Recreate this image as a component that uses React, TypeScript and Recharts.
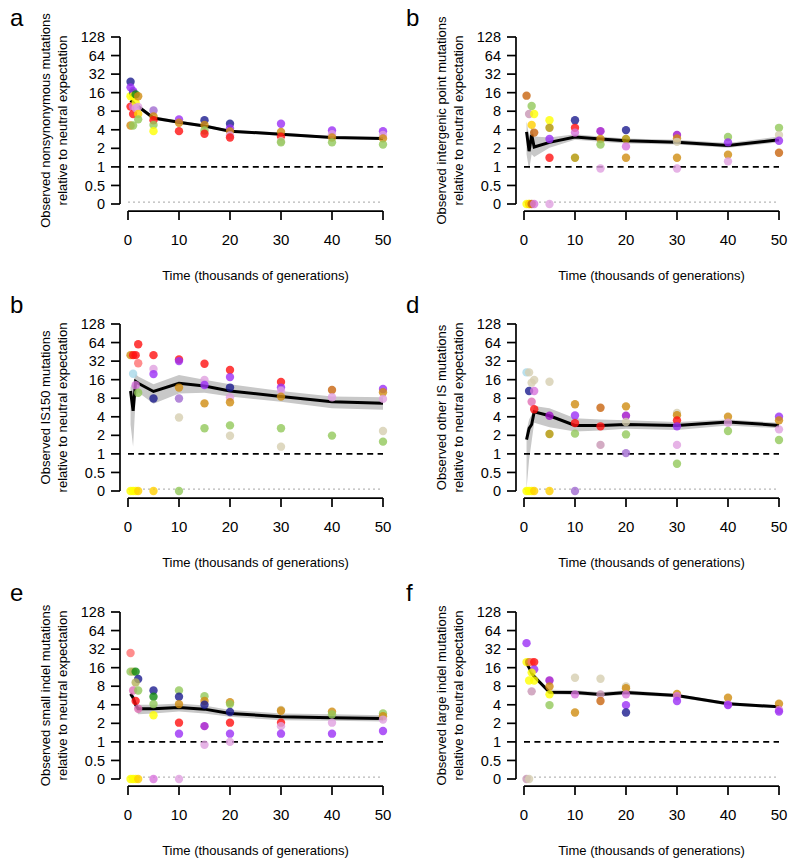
import React from 'react';
import { ComposedChart, XAxis, YAxis, Scatter, Line, Area, ReferenceLine, Label } from 'recharts';

const FONT = '"Liberation Sans", Arial, Helvetica, sans-serif';

const TIMES = [0.5, 1, 1.5, 2, 5, 10, 15, 20, 30, 40, 50];
const X_TICKS = [0, 10, 20, 30, 40, 50];
const Y_TICKS = [-2, -1, 0, 1, 2, 3, 4, 5, 6, 7];
const Y_TICK_LABELS = ['0', '0.5', '1', '2', '4', '8', '16', '32', '64', '128'];
const X_TITLE = 'Time (thousands of generations)';

// population colour key -> colour
const POP_COLORS: Record<string, string> = {
  navy: '#1c1c8f',
  violet: '#9b30f5',
  darkviolet: '#a010c8',
  mediumpurple: '#a06ad0',
  red: '#ff1010',
  salmon: '#ff7070',
  orchid: '#d874dc',
  plum: '#e0a0e0',
  hotpink: '#e070b4',
  rosy: '#c896b4',
  yellow: '#ffff00',
  gold: '#ffd000',
  green: '#108a10',
  yellowgreen: '#92c85a',
  olive: '#b09400',
  khaki: '#b4b25a',
  goldenrod: '#d08c10',
  chocolate: '#c8640e',
  tan: '#d6ceb0',
  lightblue: '#a8d8e8',
};

// [time (k gen), observed/expected ratio, population]
type Obs = [number, number, string];

// a: nonsynonymous
const obsA: Obs[] = [
  [0.5, 24, 'navy'], [0.5, 19.5, 'violet'], [0.5, 14, 'yellow'], [0.5, 9.5, 'red'], [0.5, 4.7, 'goldenrod'],
  [1, 16, 'green'], [1, 17, 'violet'], [1, 14, 'yellow'], [1, 9.5, 'orchid'], [1, 7.2, 'red'], [1, 4.7, 'yellowgreen'],
  [1.5, 15, 'green'], [1.5, 11, 'yellow'], [1.5, 9, 'plum'],
  [2, 14, 'goldenrod'], [2, 9.4, 'plum'], [2, 7.2, 'gold'], [2, 5.9, 'yellowgreen'],
  [5, 8.2, 'mediumpurple'], [5, 6.6, 'goldenrod'], [5, 5.7, 'red'], [5, 4.8, 'yellowgreen'], [5, 3.8, 'yellow'],
  [10, 5.9, 'violet'], [10, 5.2, 'goldenrod'], [10, 3.8, 'red'],
  [15, 5.7, 'navy'], [15, 4.8, 'goldenrod'], [15, 3.9, 'yellowgreen'], [15, 3.45, 'red'],
  [20, 5.0, 'navy'], [20, 4.2, 'violet'], [20, 3.76, 'goldenrod'], [20, 3.25, 'plum'], [20, 3.0, 'red'],
  [30, 5.0, 'violet'], [30, 3.7, 'goldenrod'], [30, 3.1, 'red'], [30, 2.6, 'tan'], [30, 2.5, 'yellowgreen'],
  [40, 3.9, 'violet'], [40, 3.4, 'plum'], [40, 3.0, 'goldenrod'], [40, 2.5, 'yellowgreen'],
  [50, 3.8, 'violet'], [50, 3.3, 'plum'], [50, 2.9, 'goldenrod'], [50, 2.3, 'yellowgreen'],
];
const meanA = [12, 11, 10, 9.5, 6.2, 5.3, 4.6, 3.8, 3.4, 3.0, 2.9];
const loA = [10.5, 9.8, 9.0, 8.7, 5.8, 5.0, 4.35, 3.6, 3.2, 2.85, 2.75];
const hiA = [13.5, 12.3, 11, 10.3, 6.6, 5.6, 4.85, 4.0, 3.6, 3.15, 3.05];

// b: intergenic point
const obsB: Obs[] = [
  [0.5, 0, 'yellow'], [1, 0, 'yellow'], [1, 0, 'gold'], [1.5, 0, 'chocolate'], [2, 0, 'orchid'], [5, 0, 'plum'],
  [0.5, 14.3, 'chocolate'], [1, 7.2, 'rosy'], [1.5, 9.7, 'yellowgreen'], [2, 7.2, 'yellow'], [1.5, 4.8, 'gold'], [2, 3.6, 'chocolate'],
  [5, 5.7, 'yellow'], [5, 4.3, 'olive'], [5, 2.83, 'violet'], [5, 1.41, 'red'],
  [10, 5.7, 'navy'], [10, 4.3, 'red'], [10, 3.6, 'orchid'], [10, 1.41, 'olive'],
  [15, 3.8, 'darkviolet'], [15, 2.83, 'goldenrod'], [15, 2.3, 'yellowgreen'], [15, 0.94, 'plum'],
  [20, 3.95, 'navy'], [20, 2.83, 'olive'], [20, 2.15, 'orchid'], [20, 1.41, 'goldenrod'],
  [30, 3.3, 'darkviolet'], [30, 2.9, 'goldenrod'], [30, 2.55, 'tan'], [30, 1.41, 'goldenrod'], [30, 0.94, 'plum'],
  [40, 3.05, 'yellowgreen'], [40, 2.5, 'violet'], [40, 1.58, 'goldenrod'], [40, 1.23, 'plum'],
  [50, 4.3, 'yellowgreen'], [50, 3.3, 'tan'], [50, 2.65, 'violet'], [50, 1.7, 'chocolate'],
];
const meanB = [3.7, 1.8, 3.3, 2.1, 2.5, 3.05, 2.83, 2.65, 2.5, 2.23, 2.75];
const loB = [1.6, 0.9, 1.6, 1.45, 2.05, 2.75, 2.55, 2.4, 2.3, 2.05, 2.5];
const hiB = [5.5, 3.2, 4.5, 3.1, 3.0, 3.4, 3.1, 2.9, 2.75, 2.45, 3.1];

// c: IS150
const obsC: Obs[] = [
  [0.5, 0, 'yellow'], [1, 0, 'yellow'], [1.5, 0, 'yellow'], [2, 0, 'gold'], [5, 0, 'gold'], [10, 0, 'yellowgreen'],
  [0.5, 40, 'goldenrod'], [1, 40, 'red'], [1.5, 40, 'red'], [2, 60, 'red'], [2, 29.6, 'salmon'],
  [1, 20, 'lightblue'], [1.5, 13, 'orchid'], [2, 9.8, 'yellowgreen'],
  [5, 40, 'red'], [5, 23.8, 'plum'], [5, 19.7, 'violet'], [5, 7.9, 'navy'],
  [10, 34, 'red'], [10, 32, 'violet'], [10, 11.9, 'goldenrod'], [10, 7.9, 'mediumpurple'], [10, 3.9, 'tan'],
  [15, 29, 'red'], [15, 15.8, 'plum'], [15, 13.1, 'violet'], [15, 6.6, 'goldenrod'], [15, 2.6, 'yellowgreen'],
  [20, 23, 'red'], [20, 17.6, 'violet'], [20, 11.9, 'navy'], [20, 8.3, 'plum'], [20, 6.9, 'goldenrod'], [20, 2.9, 'yellowgreen'], [20, 1.97, 'tan'],
  [30, 14.7, 'red'], [30, 11.9, 'violet'], [30, 10.6, 'plum'], [30, 8.5, 'goldenrod'], [30, 2.6, 'yellowgreen'], [30, 1.31, 'tan'],
  [40, 10.9, 'chocolate'], [40, 8.3, 'plum'], [40, 1.98, 'yellowgreen'],
  [50, 11.3, 'violet'], [50, 10, 'goldenrod'], [50, 7.8, 'plum'], [50, 2.35, 'tan'], [50, 1.58, 'yellowgreen'],
];
const meanC = [10.5, 5, 15, 14, 10.3, 14, 12.6, 10.5, 8.5, 7, 6.6];
const loC = [3, 1.3, 8, 10, 6.5, 9.5, 9.8, 8.5, 7, 5.5, 5.2];
const hiC = [12, 14, 20, 18, 13.5, 19, 16, 13.5, 10.5, 8.5, 8.3];

// d: other IS
const obsD: Obs[] = [
  [0.5, 0, 'yellow'], [1, 0, 'yellow'], [1.5, 0, 'yellow'], [2, 0, 'gold'], [5, 0, 'gold'], [10, 0, 'mediumpurple'],
  [0.5, 21, 'lightblue'], [1, 21, 'tan'], [1.5, 14.3, 'tan'], [2, 15.8, 'tan'], [1, 10.5, 'navy'], [2, 10.5, 'orchid'],
  [1.5, 7, 'hotpink'], [2, 5.3, 'red'],
  [5, 14.8, 'tan'], [5, 4.15, 'darkviolet'], [5, 2.1, 'olive'],
  [10, 6.4, 'goldenrod'], [10, 4.2, 'violet'], [10, 3.16, 'red'], [10, 2.13, 'yellowgreen'],
  [15, 5.6, 'chocolate'], [15, 2.8, 'red'], [15, 1.4, 'rosy'],
  [20, 5.9, 'goldenrod'], [20, 4.15, 'darkviolet'], [20, 3.3, 'tan'], [20, 2.07, 'yellowgreen'], [20, 1.03, 'mediumpurple'],
  [30, 4.6, 'tan'], [30, 4.25, 'goldenrod'], [30, 3.5, 'red'], [30, 2.8, 'violet'], [30, 1.4, 'plum'], [30, 0.69, 'yellowgreen'],
  [40, 4.0, 'goldenrod'], [40, 3.2, 'plum'], [40, 2.35, 'yellowgreen'],
  [50, 4.0, 'violet'], [50, 3.5, 'goldenrod'], [50, 2.5, 'plum'], [50, 1.68, 'yellowgreen'],
];
const meanD = [1.7, 2.6, 3.0, 4.8, 4.15, 2.9, 2.9, 3.0, 2.9, 3.3, 2.9];
const loD = [0.27, 0.8, 1.6, 3.2, 2.7, 2.3, 2.4, 2.55, 2.45, 2.9, 2.6];
const hiD = [2.4, 3.6, 4.3, 6.0, 5.5, 3.8, 3.6, 3.5, 3.3, 3.6, 3.2];

// e: small indel
const obsE: Obs[] = [
  [0.5, 0, 'yellow'], [1, 0, 'yellow'], [1.5, 0, 'yellow'], [2, 0, 'gold'], [5, 0, 'orchid'], [10, 0, 'plum'],
  [0.5, 27.6, 'salmon'], [0.5, 13.8, 'yellowgreen'], [1, 13.8, 'khaki'], [1.5, 13.8, 'green'], [2, 10.5, 'navy'],
  [1.5, 9.2, 'khaki'], [1, 6.8, 'hotpink'], [2, 6.8, 'yellowgreen'], [1.5, 4.6, 'red'], [2, 3.45, 'hotpink'],
  [5, 6.8, 'navy'], [5, 5.4, 'green'], [5, 4.1, 'yellowgreen'], [5, 2.7, 'yellow'],
  [10, 6.8, 'yellowgreen'], [10, 5.4, 'navy'], [10, 4.1, 'goldenrod'], [10, 2.05, 'red'], [10, 1.36, 'violet'],
  [15, 5.5, 'yellowgreen'], [15, 4.6, 'goldenrod'], [15, 4.0, 'navy'], [15, 1.8, 'darkviolet'], [15, 0.9, 'plum'],
  [20, 4.4, 'goldenrod'], [20, 4.1, 'yellowgreen'], [20, 3.05, 'navy'], [20, 2.05, 'red'], [20, 1.36, 'violet'], [20, 1.0, 'plum'],
  [30, 3.3, 'tan'], [30, 3.2, 'goldenrod'], [30, 2.05, 'red'], [30, 1.8, 'plum'], [30, 1.36, 'violet'],
  [40, 3.1, 'goldenrod'], [40, 2.8, 'yellowgreen'], [40, 2.05, 'plum'], [40, 1.36, 'violet'],
  [50, 2.9, 'yellowgreen'], [50, 2.6, 'goldenrod'], [50, 2.3, 'plum'], [50, 1.5, 'violet'],
];
const meanE = [6, 5.2, 4, 3.45, 3.45, 3.6, 3.4, 2.9, 2.56, 2.47, 2.4];
const loE = [5.4, 4.6, 3.3, 2.8, 2.9, 3.1, 2.9, 2.55, 2.25, 2.2, 2.15];
const hiE = [6.6, 5.8, 4.6, 4.0, 4.0, 4.2, 3.9, 3.3, 2.9, 2.8, 2.7];

// f: large indel
const obsF: Obs[] = [
  [0.5, 0, 'rosy'], [1, 0, 'tan'],
  [0.5, 40, 'violet'], [0.5, 19.7, 'yellow'], [1, 19.7, 'goldenrod'], [1.5, 19.7, 'salmon'], [2, 19.7, 'red'],
  [2, 15, 'violet'], [1.5, 13.3, 'yellow'], [1, 9.9, 'yellow'], [2, 9.9, 'yellow'], [1.5, 6.6, 'rosy'],
  [5, 9.9, 'darkviolet'], [5, 7.9, 'goldenrod'], [5, 5.9, 'yellow'], [5, 3.95, 'yellowgreen'],
  [10, 11, 'tan'], [10, 5.9, 'orchid'], [10, 3.0, 'goldenrod'],
  [15, 10.6, 'tan'], [15, 5.9, 'rosy'], [15, 4.6, 'chocolate'],
  [20, 7.9, 'tan'], [20, 7.4, 'goldenrod'], [20, 5.9, 'orchid'], [20, 3.95, 'violet'], [20, 3.0, 'navy'],
  [30, 6.0, 'goldenrod'], [30, 5.5, 'orchid'], [30, 4.6, 'violet'],
  [40, 5.2, 'goldenrod'], [40, 4.05, 'orchid'], [40, 3.95, 'violet'],
  [50, 4.15, 'goldenrod'], [50, 3.3, 'orchid'], [50, 3.1, 'violet'],
];
const meanF = [18.8, 16, 13, 11.5, 6.4, 6.3, 5.9, 6.3, 5.65, 4.15, 3.7];
const loF = [17, 14.6, 12, 10.6, 5.9, 5.8, 5.5, 5.8, 5.3, 3.9, 3.5];
const hiF = [20.5, 17.4, 14, 12.4, 7, 6.9, 6.4, 6.9, 6.0, 4.4, 3.9];

const PANELS = [
  { letter: 'a', title: ['Observed nonsynonymous mutations', 'relative to neutral expectation'], obs: obsA, mean: meanA, lo: loA, hi: hiA },
  { letter: 'b', title: ['Observed intergenic point mutations', 'relative to neutral expectation'], obs: obsB, mean: meanB, lo: loB, hi: hiB },
  { letter: 'b', title: ['Observed IS150 mutations', 'relative to neutral expectation'], obs: obsC, mean: meanC, lo: loC, hi: hiC },
  { letter: 'd', title: ['Observed other IS mutations', 'relative to neutral expectation'], obs: obsD, mean: meanD, lo: loD, hi: hiD },
  { letter: 'e', title: ['Observed small indel mutations', 'relative to neutral expectation'], obs: obsE, mean: meanE, lo: loE, hi: hiE },
  { letter: 'f', title: ['Observed large indel mutations', 'relative to neutral expectation'], obs: obsF, mean: meanF, lo: loF, hi: hiF },
];

// zero counts sit one step below 0.5 on the log2 axis
const toLog = (v: number) => (v > 0 ? Math.log2(v) : -2);

// where the detached R-style axis lines sit (data units)
const X_AXIS_LEVEL = -2.38;
const Y_AXIS_LEVEL = -1.57;

const dotShape = (props: any) => (
  <circle cx={props.cx} cy={props.cy} r={4.2} fill={POP_COLORS[props.payload.pop]} fillOpacity={0.8} />
);

const YTitle = ({ viewBox, lines, letter }: any) => {
  const { x, y, height } = viewBox;
  const cy = y + (height - 7) / 2;
  return (
    <g fontFamily={FONT} fill="#000">
      <text x={x + 10} y={y - 11} fontSize={24}>{letter}</text>
      {lines.map((s: string, i: number) => {
        const lx = x + 50 + i * 16.5;
        return (
          <text key={i} x={lx} y={cy} fontSize={13} textAnchor="middle" transform={`rotate(-90 ${lx} ${cy})`}>
            {s}
          </text>
        );
      })}
    </g>
  );
};

const XTitle = ({ viewBox }: any) => {
  const { x, y, width } = viewBox;
  return (
    <text x={x + 8 + (width - 8) / 2} y={y + 69} fontSize={13} fontFamily={FONT} textAnchor="middle" fill="#000">
      {X_TITLE}
    </text>
  );
};

const Panel = ({ p }: any) => {
  const lineData = TIMES.map((t, i) => ({
    t,
    m: toLog(p.mean[i]),
    band: [toLog(p.lo[i]), toLog(p.hi[i])],
  }));
  const pts = p.obs.map(([t, v, pop]: Obs) => ({ t, y: toLog(v), pop }));
  const axisStroke = { stroke: '#000', strokeWidth: 1.7 };
  return (
    <ComposedChart width={400} height={288} data={lineData} margin={{ top: 37, right: 17, bottom: 0, left: 0 }} style={{ fontFamily: FONT }}>
      <XAxis
        type="number" dataKey="t" domain={[0, 50]} ticks={X_TICKS} interval={0}
        padding={{ left: 8, right: 0 }} height={77} axisLine={false}
        tickLine={axisStroke} tickSize={9} tickMargin={14} tick={{ fill: '#000', fontSize: 15 }}
      >
        <Label content={(lp: any) => <XTitle viewBox={lp.viewBox} />} />
      </XAxis>
      <YAxis
        type="number" domain={[-2, 7]} ticks={Y_TICKS} interval={0}
        padding={{ top: 0, bottom: 7 }} width={120} axisLine={false}
        tickLine={axisStroke} tickSize={9} tickMargin={6} tick={{ fill: '#000', fontSize: 14.5 }}
        tickFormatter={(v: number) => Y_TICK_LABELS[Y_TICKS.indexOf(v)]}
      >
        <Label content={(lp: any) => <YTitle viewBox={lp.viewBox} lines={p.title} letter={p.letter} />} />
      </YAxis>
      <ReferenceLine segment={[{ x: 0, y: X_AXIS_LEVEL }, { x: 50, y: X_AXIS_LEVEL }]} ifOverflow="visible" {...axisStroke} />
      <ReferenceLine segment={[{ x: Y_AXIS_LEVEL, y: -2 }, { x: Y_AXIS_LEVEL, y: 7 }]} ifOverflow="visible" {...axisStroke} />
      <ReferenceLine segment={[{ x: 0, y: -1.9 }, { x: 50, y: -1.9 }]} ifOverflow="visible" stroke="#b8b8b8" strokeWidth={1.2} strokeDasharray="2 3" />
      <ReferenceLine segment={[{ x: 0, y: 0 }, { x: 50, y: 0 }]} ifOverflow="visible" stroke="#000" strokeWidth={1.6} strokeDasharray="6 4.4" />
      <Area dataKey="band" type="linear" stroke="none" fill="#c8c8c8" fillOpacity={1} isAnimationActive={false} />
      <Line dataKey="m" type="linear" stroke="#000" strokeWidth={3} dot={false} isAnimationActive={false} />
      <Scatter data={pts} dataKey="y" shape={dotShape} isAnimationActive={false} />
    </ComposedChart>
  );
};

const COL_LEFT = [0, 396];
const ROW_TOP = [0, 287, 575];

export default function App() {
  return (
    <div style={{ position: 'absolute', left: 0, top: 0, width: 800, height: 867, background: '#fff', fontFamily: FONT }}>
      {PANELS.map((p, i) => (
        <div key={i} style={{ position: 'absolute', left: COL_LEFT[i % 2], top: ROW_TOP[Math.floor(i / 2)] }}>
          <Panel p={p} />
        </div>
      ))}
    </div>
  );
}
